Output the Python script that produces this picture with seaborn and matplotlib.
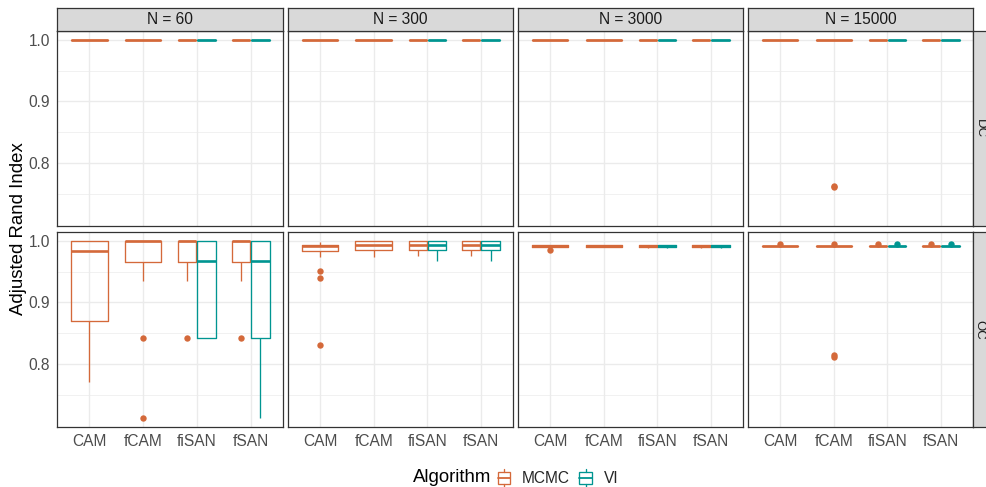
import matplotlib
matplotlib.use("Agg")
import matplotlib.pyplot as plt
import pandas as pd
import seaborn as sns
from matplotlib.legend_handler import HandlerBase
from matplotlib.patches import Patch, Rectangle
from matplotlib.lines import Line2D

# ---------------------------------------------------------------------------
# Data: adjusted Rand index per replicate, one dict per (scenario, N) panel
# ---------------------------------------------------------------------------
models = ["CAM", "fCAM", "fiSAN", "fSAN"]
sample_sizes = [60, 300, 3000, 15000]
scenarios = ["DC", "OC"]
algorithms = ["MCMC", "VI"]
single_algo_models = ["CAM", "fCAM"]   # fitted with MCMC only

dc_60 = {
    "CAM":   {"MCMC": [1.0, 1.0, 1.0, 1.0, 1.0]},
    "fCAM":  {"MCMC": [1.0, 1.0, 1.0, 1.0, 1.0]},
    "fiSAN": {"MCMC": [1.0, 1.0, 1.0, 1.0, 1.0], "VI": [1.0, 1.0, 1.0, 1.0, 1.0]},
    "fSAN":  {"MCMC": [1.0, 1.0, 1.0, 1.0, 1.0], "VI": [1.0, 1.0, 1.0, 1.0, 1.0]},
}
dc_300 = {
    "CAM":   {"MCMC": [1.0, 1.0, 1.0, 1.0, 1.0]},
    "fCAM":  {"MCMC": [1.0, 1.0, 1.0, 1.0, 1.0]},
    "fiSAN": {"MCMC": [1.0, 1.0, 1.0, 1.0, 1.0], "VI": [1.0, 1.0, 1.0, 1.0, 1.0]},
    "fSAN":  {"MCMC": [1.0, 1.0, 1.0, 1.0, 1.0], "VI": [1.0, 1.0, 1.0, 1.0, 1.0]},
}
dc_3000 = {
    "CAM":   {"MCMC": [1.0, 1.0, 1.0, 1.0, 1.0]},
    "fCAM":  {"MCMC": [1.0, 1.0, 1.0, 1.0, 1.0]},
    "fiSAN": {"MCMC": [1.0, 1.0, 1.0, 1.0, 1.0], "VI": [1.0, 1.0, 1.0, 1.0, 1.0]},
    "fSAN":  {"MCMC": [1.0, 1.0, 1.0, 1.0, 1.0], "VI": [1.0, 1.0, 1.0, 1.0, 1.0]},
}
dc_15000 = {
    "CAM":   {"MCMC": [1.0, 1.0, 1.0, 1.0, 1.0]},
    "fCAM":  {"MCMC": [0.761, 0.763, 1.0, 1.0, 1.0, 1.0, 1.0, 1.0, 1.0]},
    "fiSAN": {"MCMC": [1.0, 1.0, 1.0, 1.0, 1.0], "VI": [1.0, 1.0, 1.0, 1.0, 1.0]},
    "fSAN":  {"MCMC": [1.0, 1.0, 1.0, 1.0, 1.0], "VI": [1.0, 1.0, 1.0, 1.0, 1.0]},
}

oc_60 = {
    "CAM":   {"MCMC": [0.771, 0.870, 0.983, 1.0, 1.0]},
    "fCAM":  {"MCMC": [0.712, 0.843, 0.934, 0.966, 0.966, 1.0, 1.0,
                       1.0, 1.0, 1.0, 1.0, 1.0, 1.0]},
    "fiSAN": {"MCMC": [0.843, 0.934, 0.966, 1.0, 1.0, 1.0, 1.0, 1.0, 1.0],
              "VI":   [0.843, 0.843, 0.967, 1.0, 1.0]},
    "fSAN":  {"MCMC": [0.843, 0.934, 0.966, 1.0, 1.0, 1.0, 1.0, 1.0, 1.0],
              "VI":   [0.712, 0.843, 0.967, 1.0, 1.0]},
}
oc_300 = {
    "CAM":   {"MCMC": [0.831, 0.939, 0.951, 0.974, 0.983, 0.985, 0.988, 0.990,
                       0.992, 0.992, 0.992, 0.9925, 0.9925, 0.993, 0.995,
                       0.998, 0.998]},
    "fCAM":  {"MCMC": [0.974, 0.9855, 0.9925, 0.999, 0.999]},
    "fiSAN": {"MCMC": [0.975, 0.9855, 0.9925, 0.999, 0.999],
              "VI":   [0.967, 0.9855, 0.9925, 0.999, 0.999]},
    "fSAN":  {"MCMC": [0.975, 0.9855, 0.9925, 0.999, 0.999],
              "VI":   [0.967, 0.9855, 0.9925, 0.999, 0.999]},
}
oc_3000 = {
    "CAM":   {"MCMC": [0.9845, 0.9895, 0.990, 0.9905, 0.991, 0.992, 0.9925,
                       0.993, 0.9935]},
    "fCAM":  {"MCMC": [0.9895, 0.990, 0.991, 0.9925, 0.9935]},
    "fiSAN": {"MCMC": [0.988, 0.990, 0.991, 0.9925, 0.994],
              "VI":   [0.988, 0.990, 0.991, 0.9925, 0.994]},
    "fSAN":  {"MCMC": [0.988, 0.990, 0.991, 0.9925, 0.994],
              "VI":   [0.988, 0.990, 0.991, 0.9925, 0.994]},
}
oc_15000 = {
    "CAM":   {"MCMC": [0.9914, 0.9914, 0.9914, 0.9914, 0.9914, 0.9945]},
    "fCAM":  {"MCMC": [0.812, 0.815, 0.9914, 0.9914, 0.9914, 0.9914, 0.9914,
                       0.9914, 0.9945]},
    "fiSAN": {"MCMC": [0.9914, 0.9914, 0.9914, 0.9914, 0.9914, 0.9945],
              "VI":   [0.9914, 0.9914, 0.9914, 0.9914, 0.9914, 0.9945]},
    "fSAN":  {"MCMC": [0.9914, 0.9914, 0.9914, 0.9914, 0.9914, 0.9945],
              "VI":   [0.9914, 0.9914, 0.9914, 0.9914, 0.9914, 0.9945]},
}

panels = {
    ("DC", 60): dc_60, ("DC", 300): dc_300, ("DC", 3000): dc_3000, ("DC", 15000): dc_15000,
    ("OC", 60): oc_60, ("OC", 300): oc_300, ("OC", 3000): oc_3000, ("OC", 15000): oc_15000,
}

records = []
for (scen, n), panel in panels.items():
    for model, by_algo in panel.items():
        for algo, values in by_algo.items():
            for v in values:
                records.append({"scenario": scen, "N": n, "model": model,
                                "Algorithm": algo, "ari": v})
df = pd.DataFrame(records)

# ---------------------------------------------------------------------------
# Styling
# ---------------------------------------------------------------------------
sns.set_theme(style="white")
plt.rcParams["font.family"] = ["Liberation Sans", "DejaVu Sans"]

palette = {"MCMC": "#D4693A", "VI": "#009591"}
border_col = "#333333"
grid_col = "#EBEBEB"
tick_col = "#4D4D4D"
strip_bg = "#D9D9D9"
small_fs = 11.2
big_fs = 13.4

W, H = 986, 487
fig = plt.figure(figsize=(W / 100, H / 100), dpi=100)


def rect(x0, y0, x1, y1):
    return [x0 / W, 1 - y1 / H, (x1 - x0) / W, (y1 - y0) / H]


col_px = [(57, 283), (288, 513), (518, 743), (748, 973)]
row_px = [(31, 226), (232, 427)]
ylim = (0.6976, 1.0144)

box_common = dict(
    x="model", y="ari", hue="Algorithm", order=models, fill=False,
    palette=palette, linewidth=0.95, showcaps=False, whis=1.5,
    medianprops=dict(linewidth=1.9),
    flierprops=dict(marker="o", markersize=4.6, markeredgewidth=0.0),
    legend=False,
)

for r, scen in enumerate(scenarios):
    for c, n in enumerate(sample_sizes):
        ax = fig.add_axes(rect(col_px[c][0], row_px[r][0], col_px[c][1], row_px[r][1]))
        sub = df[(df["scenario"] == scen) & (df["N"] == n)]
        singles = sub[sub["model"].isin(single_algo_models)]
        pairs = sub[~sub["model"].isin(single_algo_models)]
        sns.boxplot(data=singles, hue_order=["MCMC"], dodge=False, width=0.68,
                    ax=ax, **box_common)
        sns.boxplot(data=pairs, hue_order=algorithms, dodge=True, width=0.72,
                    gap=0.06, ax=ax, **box_common)
        for ln in ax.lines:
            if ln.get_marker() == "o":
                ln.set_markerfacecolor(ln.get_markeredgecolor())

        ax.set_xlim(-0.6, 3.6)
        ax.set_ylim(*ylim)
        ax.set_yticks([0.8, 0.9, 1.0])
        ax.set_yticks([0.75, 0.85, 0.95], minor=True)
        ax.set_xticks(range(len(models)))
        ax.set_axisbelow(True)
        ax.grid(which="major", color=grid_col, linewidth=1.0)
        ax.grid(which="minor", axis="y", color=grid_col, linewidth=0.5)
        ax.set_xlabel("")
        ax.set_ylabel("")
        for sp in ax.spines.values():
            sp.set_color(border_col)
            sp.set_linewidth(0.9)
        ax.tick_params(which="both", direction="out", length=3.2, width=0.8,
                       color=border_col, labelcolor=tick_col, labelsize=small_fs,
                       pad=1.6)
        ax.tick_params(which="minor", length=0)
        if c == 0:
            ax.set_yticklabels(["0.8", "0.9", "1.0"])
        else:
            ax.tick_params(axis="y", which="both", left=False, labelleft=False)
        if r == len(scenarios) - 1:
            ax.set_xticklabels(models)
        else:
            ax.tick_params(axis="x", bottom=False, labelbottom=False)

        # column strips on top
        if r == 0:
            sax = fig.add_axes(rect(col_px[c][0], 8, col_px[c][1], 31))
            sax.set_facecolor(strip_bg)
            sax.set_xticks([])
            sax.set_yticks([])
            for sp in sax.spines.values():
                sp.set_color(border_col)
                sp.set_linewidth(0.9)
            sax.text(0.5, 0.5, f"N = {n}", ha="center", va="center",
                     fontsize=small_fs, color="#1A1A1A", transform=sax.transAxes)
        # row strips on the right edge
        if c == len(sample_sizes) - 1:
            sax = fig.add_axes(rect(973, row_px[r][0], 997, row_px[r][1]))
            sax.set_facecolor(strip_bg)
            sax.set_xticks([])
            sax.set_yticks([])
            for sp in sax.spines.values():
                sp.set_color(border_col)
                sp.set_linewidth(0.9)
            fig.text(979.5 / W, 1 - (row_px[r][0] + row_px[r][1]) / 2 / H, scen,
                     ha="center", va="center", rotation=-90,
                     fontsize=9.5, color="#1A1A1A")

fig.text(19 / W, 1 - 229 / H, "Adjusted Rand Index", rotation=90,
         ha="center", va="center", fontsize=big_fs, color="black")


# boxplot-shaped legend keys
class BoxKey(HandlerBase):
    def create_artists(self, legend, orig_handle, xdescent, ydescent,
                       width, height, fontsize, trans):
        col = orig_handle.get_edgecolor()
        x0, y0 = -xdescent, -ydescent
        xm = x0 + width / 2
        box = Rectangle((x0, y0 + 0.18 * height), width, 0.64 * height,
                        facecolor="white", edgecolor=col, linewidth=0.95,
                        transform=trans)
        med = Line2D([x0, x0 + width], [y0 + 0.5 * height] * 2, color=col,
                     linewidth=1.3, transform=trans)
        w_top = Line2D([xm, xm], [y0 + 0.82 * height, y0 + 1.0 * height],
                       color=col, linewidth=0.95, transform=trans)
        w_bot = Line2D([xm, xm], [y0, y0 + 0.18 * height],
                       color=col, linewidth=0.95, transform=trans)
        return [box, med, w_top, w_bot]


handles = [Patch(facecolor="white", edgecolor=palette[a]) for a in algorithms]
fig.text(413 / W, 1 - 478 / H, "Algorithm", ha="left", va="center",
         fontsize=big_fs, color="black")
fig.legend(handles, algorithms, handler_map={Patch: BoxKey()}, ncol=2,
           loc="center left", bbox_to_anchor=(498 / W, 1 - 478 / H),
           frameon=False, fontsize=small_fs, handlelength=0.8,
           handleheight=1.4, handletextpad=0.75, columnspacing=0.6,
           borderpad=0, borderaxespad=0)

fig.savefig("out.png", dpi=100)
